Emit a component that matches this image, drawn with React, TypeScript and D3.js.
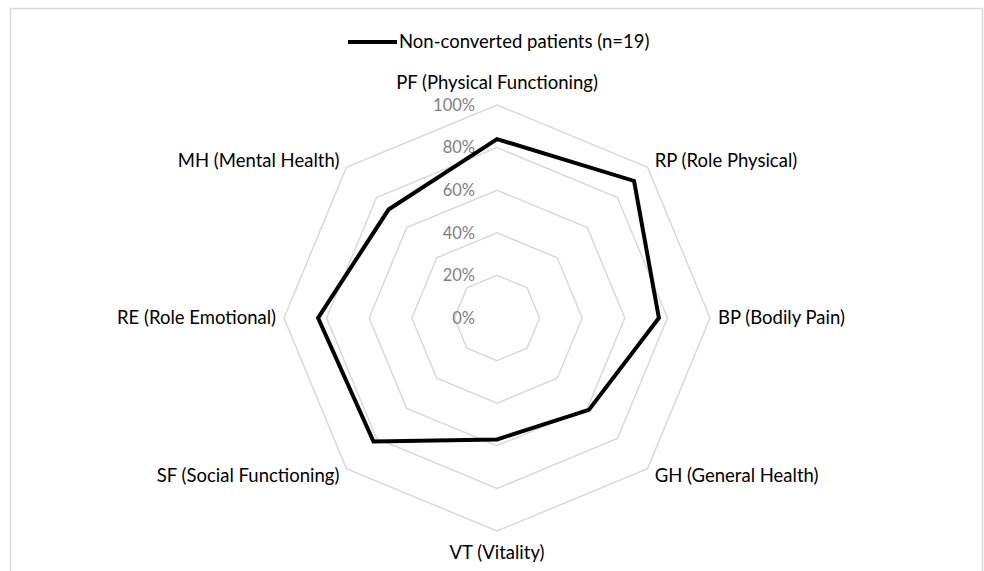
import { useEffect, useRef } from "react";
import * as d3 from "d3";

const axes = [
	"PF (Physical Functioning)",
	"RP (Role Physical)",
	"BP (Bodily Pain)",
	"GH (General Health)",
	"VT (Vitality)",
	"SF (Social Functioning)",
	"RE (Role Emotional)",
	"MH (Mental Health)",
];
const values = [0.84, 0.91, 0.76, 0.61, 0.57, 0.82, 0.84, 0.72];
const ticks = [0, 0.2, 0.4, 0.6, 0.8, 1];
const seriesName = "Non-converted patients (n=19)";

const FONT = "Lato, 'Open Sans', sans-serif";

export default function App() {
	const ref = useRef<SVGSVGElement>(null);

	useEffect(() => {
		if (!ref.current) return;
		const cx = 497;
		const cy = 318;
		const radius = 213;

		const svg = d3.select(ref.current);
		svg.selectAll("*").remove();

		svg
			.append("rect")
			.attr("x", 10.5)
			.attr("y", 8.5)
			.attr("width", 972)
			.attr("height", 600)
			.attr("fill", "#fff")
			.attr("stroke", "#d9d9d9")
			.attr("stroke-width", 1.5);

		const r = d3.scaleLinear().domain([0, 1]).range([0, radius]);
		const angle = d3
			.scaleBand()
			.domain(axes)
			.range([0, 2 * Math.PI])
			.paddingInner(0)
			.paddingOuter(0)
			.align(0);
		const ang = (a: string) => angle(a) ?? 0;

		const g = svg.append("g").attr("transform", `translate(${cx},${cy})`);

		// grid rings
		const ringLine = d3
			.lineRadial<string>()
			.angle((a) => ang(a))
			.curve(d3.curveLinearClosed);

		ticks
			.filter((t) => t > 0)
			.forEach((t) => {
				g.append("path")
					.attr("d", ringLine.radius(() => r(t))(axes))
					.attr("fill", "none")
					.attr("stroke", "#d9d9d9")
					.attr("stroke-width", 1.5);
			});

		// tick labels
		g.selectAll("text.tick")
			.data(ticks)
			.join("text")
			.attr("class", "tick")
			.attr("x", -22)
			.attr("y", (t) => -r(t))
			.attr("dy", "0.35em")
			.attr("text-anchor", "end")
			.attr("font-family", FONT)
			.attr("font-size", 16.5)
			.attr("fill", "#7f7f7f")
			.text((t) => `${Math.round(t * 100)}%`);

		// data polygon
		const dataLine = d3
			.lineRadial<number>()
			.angle((_, i) => ang(axes[i]))
			.radius((v) => r(v))
			.curve(d3.curveLinearClosed);

		g.append("path")
			.attr("d", dataLine(values))
			.attr("fill", "none")
			.attr("stroke", "#000")
			.attr("stroke-width", 4)
			.attr("stroke-linejoin", "miter");

		// axis labels
		g.selectAll("text.axis")
			.data(axes)
			.join("text")
			.attr("class", "axis")
			.each(function (a) {
				const t = ang(a);
				const sx = Math.sin(t);
				const sy = -Math.cos(t);
				const vertical = Math.abs(sx) < 0.01;
				const off = vertical ? 22 : Math.abs(sy) < 0.01 ? 8 : 10;
				const px = (r(1) + off) * sx;
				const py = (r(1) + off) * sy;
				const anchor = vertical ? "middle" : sx > 0 ? "start" : "end";
				d3.select(this)
					.attr("x", px)
					.attr("y", py)
					.attr("dy", "0.35em")
					.attr("text-anchor", anchor);
			})
			.attr("font-family", FONT)
			.attr("font-size", 18.5)
			.attr("fill", "#000")
			.text((a) => a);

		// legend
		const legend = svg.append("g").attr("transform", `translate(348,42)`);
		legend
			.append("line")
			.attr("x1", 0)
			.attr("x2", 49)
			.attr("stroke", "#000")
			.attr("stroke-width", 4);
		legend
			.append("text")
			.attr("x", 51)
			.attr("dy", "0.35em")
			.attr("font-family", FONT)
			.attr("font-size", 18.5)
			.attr("fill", "#000")
			.text(seriesName);
	}, []);

	return (
		<svg
			ref={ref}
			width={984}
			height={571}
			style={{ position: "absolute", left: 0, top: 0, background: "#fff" }}
		/>
	);
}
